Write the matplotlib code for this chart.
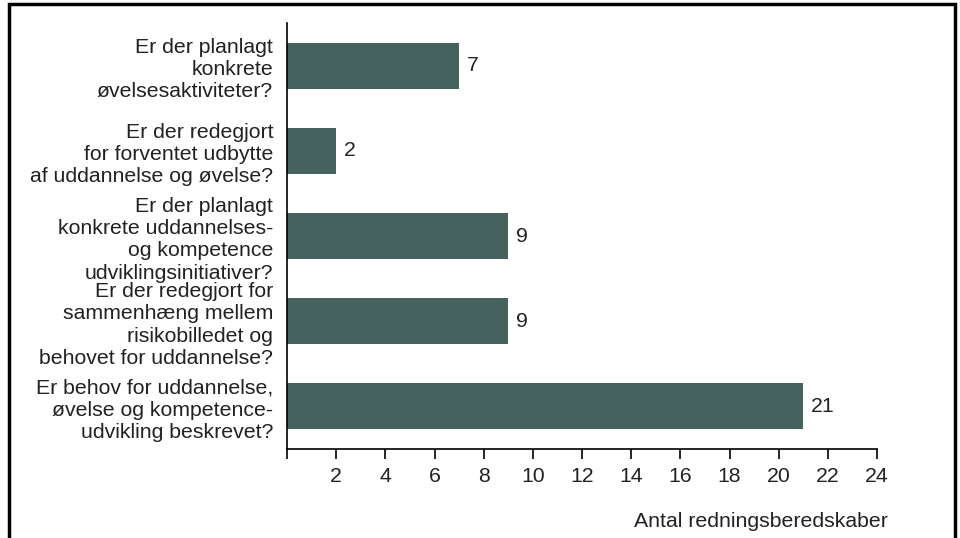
import matplotlib.pyplot as plt
import numpy as np

plt.rcParams['font.family'] = ['Liberation Sans', 'DejaVu Sans']

labels = ["Er der planlagt\nkonkrete\nøvelsesaktiviteter?",
          "Er der redegjort\nfor forventet udbytte\naf uddannelse og øvelse?",
          "Er der planlagt\nkonkrete uddannelses-\nog kompetence\nudviklingsinitiativer?",
          "Er der redegjort for\nsammenhæng mellem\nrisikobilledet og\nbehovet for uddannelse?",
          "Er behov for uddannelse,\nøvelse og kompetence-\nudvikling beskrevet?"]
values = [7, 2, 9, 9, 21]
xticks = list(range(0, 25, 2))
xticklabels = [""] + [str(t) for t in xticks[1:]]

fs = 15.3
tc = '#222222'

fig = plt.figure(figsize=(9.6, 5.38), dpi=100)
ax = fig.add_axes([0.299, 0.1654, 0.6146, 0.7916])

y = np.arange(len(labels))
bars = ax.barh(y, values, height=0.54, color='#46625f')
ax.set_ylim(len(labels) - 0.5, -0.5)
ax.set_xlim(0, 24)

for rect, v in zip(bars, values):
    ax.text(rect.get_width() + 0.3, rect.get_y() + rect.get_height() / 2, str(v),
            ha='left', va='center', fontsize=fs, color=tc)

ax.set_yticks(y)
ax.set_yticklabels(labels, fontsize=fs, color=tc, linespacing=1.22, ha='right')
ax.tick_params(axis='y', length=0, pad=10)
ax.set_xticks(xticks)
ax.set_xticklabels(xticklabels, fontsize=fs, color=tc)
ax.tick_params(axis='x', direction='out', length=7, width=1.2, pad=6)

for s in ['top', 'right']:
    ax.spines[s].set_visible(False)
ax.spines['left'].set_linewidth(1.2)
ax.spines['bottom'].set_linewidth(1.2)

fig.text(0.925, 0.03, "Antal redningsberedskaber", ha='right', va='center',
         fontsize=fs, color=tc)

# outer frame
frame = plt.Rectangle((0.009, -0.01), 0.986, 1.003, transform=fig.transFigure,
                      fill=False, edgecolor='black', linewidth=2.5)
fig.patches.append(frame)

fig.savefig("out.png", dpi=100)
